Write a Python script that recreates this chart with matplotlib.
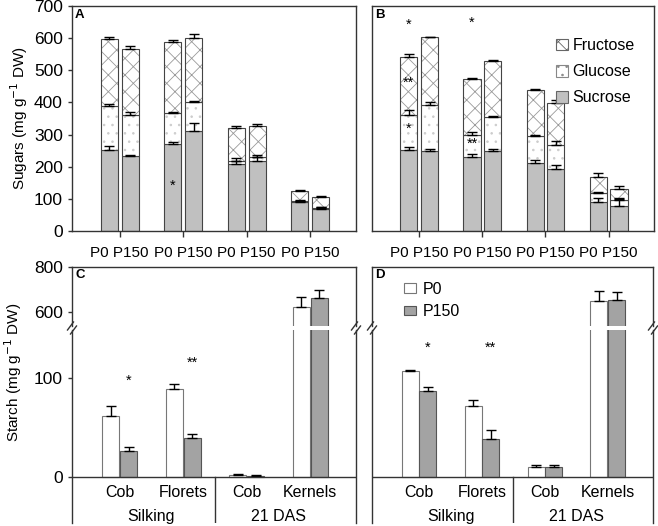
import matplotlib
matplotlib.use("Agg")
import matplotlib.pyplot as plt
from matplotlib.patches import Patch
from matplotlib.lines import Line2D
import numpy as np

plt.rcParams['font.family'] = ['Liberation Sans', 'DejaVu Sans']
plt.rcParams['hatch.linewidth'] = 0.6

pair_labels = ["P0 P150"] * 4
organs = ["Cob", "Florets", "Cob", "Kernels"]
stages = ["Silking", "21 DAS"]

# panel A, sugars (segment values, not cumulative)
a_p0_suc = [253, 270, 207, 89]
a_p0_glu = [135, 97, 12, 3]
a_p0_fru = [210, 221, 101, 32]
a_p0_suc_err = [12, 7, 12, 6]
a_p0_glu_err = [8, 4, 8, 2]
a_p0_fru_err = [5, 6, 7, 3]
a_p150_suc = [232, 312, 217, 70]
a_p150_glu = [130, 88, 13, 2]
a_p150_fru = [205, 200, 97, 33]
a_p150_suc_err = [6, 25, 12, 4]
a_p150_glu_err = [8, 5, 5, 2]
a_p150_fru_err = [8, 14, 6, 3]

# panel B
b_p0_suc = [253, 230, 211, 91]
b_p0_glu = [108, 69, 85, 28]
b_p0_fru = [179, 173, 143, 48]
b_p0_suc_err = [7, 10, 9, 11]
b_p0_glu_err = [16, 8, 4, 2]
b_p0_fru_err = [10, 5, 2, 12]
b_p150_suc = [248, 248, 193, 77]
b_p150_glu = [143, 107, 76, 21]
b_p150_fru = [211, 175, 128, 33]
b_p150_suc_err = [8, 6, 11, 23]
b_p150_glu_err = [9, 3, 12, 4]
b_p150_fru_err = [2, 2, 11, 8]

# panel C, D starch
c_p0 = [62, 89, 2, 622]
c_p0_err = [10, 5, 1, 47]
c_p150 = [26, 40, 1.3, 662]
c_p150_err = [4, 4, 0.5, 34]
d_p0 = [107.5, 72, 10.2, 647]
d_p0_err = [1, 6.5, 2.3, 45]
d_p150 = [87, 38.6, 10.5, 653]
d_p150_err = [4.5, 9, 2, 36]

# significance marks: (group, series, y, text)
a_stars = [(1, 0, 142, "*")]
b_stars = [(0, 0, 643, "*"), (0, 0, 462, "**"), (0, 0, 318, "*"),
           (1, 0, 648, "*"), (1, 0, 271, "**")]
c_stars = [(0, 1, 98, "*"), (1, 1, 116, "**")]
d_stars = [(0, 1, 131, "*"), (1, 1, 131, "**")]

SUC = '#c0c0c0'
DARK = '#a3a3a3'
EDGE = '#444444'
HATCH = '#9a9a9a'
DOTS = '#cccccc'
LINE = '#333333'

W, H = 658, 526


def box(l, t, r, b):
    return [l / W, (H - b) / H, (r - l) / W, (b - t) / H]


fig = plt.figure(figsize=(6.58, 5.26), dpi=100)


def stacked(ax, x, suc, glu, fru, es, eg, ef, w):
    suc = np.array(suc, float)
    glu = np.array(glu, float)
    fru = np.array(fru, float)
    ax.bar(x, suc, w, color=SUC, edgecolor=EDGE, lw=0.8)
    ax.bar(x, glu, w, bottom=suc, color='white', edgecolor=DOTS, hatch='..', lw=0)
    ax.bar(x, glu, w, bottom=suc, fill=False, edgecolor=EDGE, lw=0.8)
    ax.bar(x, fru, w, bottom=suc + glu, color='white', edgecolor=HATCH, hatch='xx', lw=0)
    ax.bar(x, fru, w, bottom=suc + glu, fill=False, edgecolor=EDGE, lw=0.8)
    z = np.zeros(len(x))
    for top, e in [(suc, es), (suc + glu, eg), (suc + glu + fru, ef)]:
        ax.errorbar(x, top, yerr=[z, e], fmt='none', ecolor='black',
                    elinewidth=1, capsize=3.5, capthick=1)


def sugar_panel(ax, p0, p150, stars, letter, show_y):
    x = np.arange(4)
    off = 0.165
    w = 0.27
    stacked(ax, x - off, *p0, w)
    stacked(ax, x + off, *p150, w)
    for g, s, y, t in stars:
        ax.text(g + (-off if s == 0 else off), y, t, ha='center', va='center', fontsize=10.5)
    ax.set_xlim(-0.75, 3.72)
    ax.set_ylim(0, 700)
    ax.set_xticks(x)
    ax.set_xticklabels(pair_labels, fontsize=11)
    ax.set_yticks(range(0, 701, 100))
    ax.tick_params(axis='x', length=4, width=1, color=LINE, pad=7)
    if show_y:
        ax.tick_params(axis='y', length=3, width=1, color=LINE, labelsize=12.5)
        ax.set_ylabel("Sugars (mg g$^{-1}$ DW)", fontsize=11, labelpad=3)
    else:
        ax.tick_params(axis='y', length=0, labelleft=False)
    for s in ax.spines.values():
        s.set_color(LINE)
        s.set_linewidth(1)
    ax.text(0.01, 0.985, letter, transform=ax.transAxes, fontsize=9.5,
            fontweight='bold', ha='left', va='top')


axA = fig.add_axes(box(72, 6, 356, 231))
axB = fig.add_axes(box(372, 6, 654, 231))
sugar_panel(axA,
            (a_p0_suc, a_p0_glu, a_p0_fru, a_p0_suc_err, a_p0_glu_err, a_p0_fru_err),
            (a_p150_suc, a_p150_glu, a_p150_fru, a_p150_suc_err, a_p150_glu_err, a_p150_fru_err),
            a_stars, "A", True)
sugar_panel(axB,
            (b_p0_suc, b_p0_glu, b_p0_fru, b_p0_suc_err, b_p0_glu_err, b_p0_fru_err),
            (b_p150_suc, b_p150_glu, b_p150_fru, b_p150_suc_err, b_p150_glu_err, b_p150_fru_err),
            b_stars, "B", False)

handles = [Patch(facecolor='white', edgecolor='#666666', hatch='xx', lw=0.8),
           Patch(facecolor='white', edgecolor='#888888', hatch='..', lw=0.8),
           Patch(facecolor=SUC, edgecolor='#666666', lw=0.8)]
axB.legend(handles, ["Fructose", "Glucose", "Sucrose"], loc='upper right',
           bbox_to_anchor=(0.965, 0.9), frameon=False, fontsize=11.5,
           handlelength=0.75, handleheight=0.75, handletextpad=0.3,
           labelspacing=0.7, borderaxespad=0.2)


def slash(xp, yp):
    fig.add_artist(Line2D([(xp - 3) / W, (xp + 3) / W],
                          [(H - yp - 4) / H, (H - yp + 4) / H],
                          color=LINE, lw=1))


def starch_panel(left, right, p0, e0, p150, e150, stars, letter, show_y):
    top = fig.add_axes(box(left, 267, right, 326))
    bot = fig.add_axes(box(left, 330, right, 523))
    x = np.arange(4)
    off = 0.14
    w = 0.27
    z = np.zeros(4)
    for ax in (top, bot):
        ax.bar(x - off, p0, w, color='white', edgecolor='#777777', lw=0.8)
        ax.bar(x + off, p150, w, color=DARK, edgecolor='#555555', lw=0.8)
        ax.errorbar(x - off, p0, yerr=[z, e0], fmt='none', ecolor='black',
                    elinewidth=1, capsize=3.5, capthick=1)
        ax.errorbar(x + off, p150, yerr=[z, e150], fmt='none', ecolor='black',
                    elinewidth=1, capsize=3.5, capthick=1)
        ax.set_xlim(-0.75, 3.72)
        ax.set_xticks([])
        for s in ax.spines.values():
            s.set_color(LINE)
            s.set_linewidth(1)
        if show_y:
            ax.tick_params(axis='y', length=3, width=1, color=LINE, labelsize=12.5)
        else:
            ax.tick_params(axis='y', length=0, labelleft=False)
    top.set_ylim(538, 800)
    top.set_yticks([600, 800])
    bot.set_ylim(-46.6, 149)
    bot.set_yticks([0, 100])
    top.spines['bottom'].set_visible(False)
    bot.spines['top'].set_visible(False)
    bot.spines['bottom'].set_visible(False)
    bot.axhline(0, color=LINE, lw=1)
    bot.plot([1.5, 1.5], [-46.6, 0], color=LINE, lw=1)
    for i, name in enumerate(organs):
        bot.text(i, -16, name, ha='center', va='center', fontsize=11.5)
    for i, name in enumerate(stages):
        bot.text(2 * i + 0.5, -40, name, ha='center', va='center', fontsize=11.5)
    for g, s, y, t in stars:
        bot.text(g + (-off if s == 0 else off), y, t, ha='center', va='center', fontsize=10.5)
    top.text(0.012, 0.97, letter, transform=top.transAxes, fontsize=9.5,
             fontweight='bold', ha='left', va='top')
    for xp in (left, right):
        slash(xp - 1.5, 326)
        slash(xp + 1.5, 330)
    return top, bot


cT, cB = starch_panel(72, 356, c_p0, c_p0_err, c_p150, c_p150_err, c_stars, "C", True)
dT, dB = starch_panel(372, 653, d_p0, d_p0_err, d_p150, d_p150_err, d_stars, "D", False)

dT.legend([Patch(facecolor='white', edgecolor='#777777', lw=0.8),
           Patch(facecolor=DARK, edgecolor='#555555', lw=0.8)],
          ["P0", "P150"], loc='upper left', bbox_to_anchor=(0.09, 0.86),
          frameon=False, fontsize=11.5, handlelength=0.8, handleheight=0.5,
          handletextpad=0.4, labelspacing=0.45, borderaxespad=0.0)

fig.text(13 / W, 1 - 372 / H, "Starch (mg g$^{-1}$ DW)", rotation=90,
         ha='center', va='center', fontsize=11)

fig.savefig("out.png", dpi=100)
